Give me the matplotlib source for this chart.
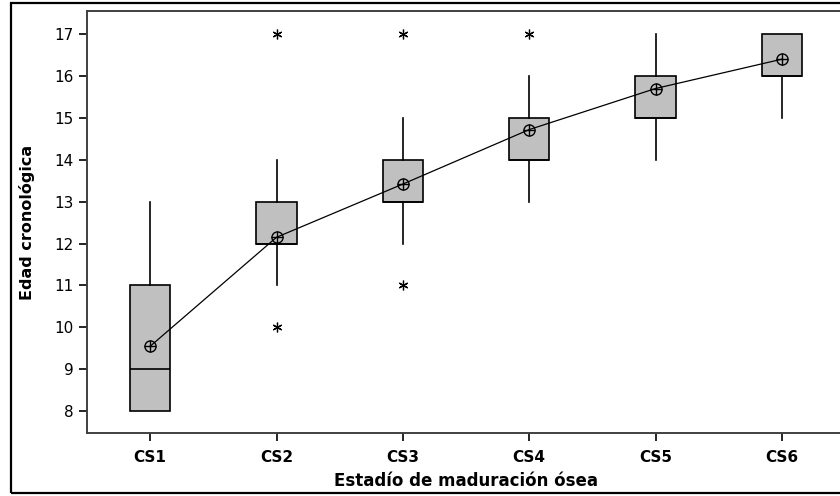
import matplotlib
matplotlib.use("Agg")
import matplotlib.pyplot as plt
from matplotlib.patches import Rectangle

# estadios y resumen de cada caja
stages = ["CS1", "CS2", "CS3", "CS4", "CS5", "CS6"]
q1 = [8, 12, 13, 14, 15, 16]
med = [9, 12, 13, 14, 15, 16]
q3 = [11, 13, 14, 15, 16, 17]
wlo = [8, 11, 12, 13, 14, 15]
whi = [13, 14, 15, 16, 17, 17]
means = [9.55, 12.15, 13.42, 14.72, 15.70, 16.40]
outliers = [[], [10, 17], [11, 17], [17], [], []]

stats = []
for i in range(len(stages)):
    stats.append({"label": stages[i], "q1": q1[i], "med": med[i], "q3": q3[i],
                  "whislo": wlo[i], "whishi": whi[i], "fliers": outliers[i]})

fig = plt.figure(figsize=(8.4, 4.96), dpi=100)
ax = fig.add_axes([87 / 840, 1 - 433 / 496, 758 / 840, 422 / 496])

pos = list(range(1, len(stages) + 1))
ax.bxp(stats, positions=pos, widths=0.32, patch_artist=True, showcaps=False,
       boxprops=dict(facecolor="#c0c0c0", edgecolor="black", linewidth=1.2),
       medianprops=dict(color="black", linewidth=1.2),
       whiskerprops=dict(color="black", linewidth=1.2),
       flierprops=dict(marker=(6, 2, 0), markersize=7, markeredgecolor="black",
                       markeredgewidth=0.9))

# medias conectadas
ax.plot(pos, means, color="black", lw=0.9, zorder=4)
ax.plot(pos, means, "o", ms=8, mfc="none", mec="black", mew=1.0, zorder=5)
ax.plot(pos, means, "+", ms=8, mec="black", mew=1.0, zorder=5)

ax.set_xlim(0.5, 6.5)
ax.set_ylim(7.48, 17.55)
ax.set_yticks(range(8, 18))
ax.set_xticks(pos)
ax.set_xticklabels(stages, fontweight="bold")
ax.tick_params(direction="out", length=6, width=1.2, labelsize=11, colors="black")
ax.tick_params(axis="x", pad=6)
for s in ax.spines.values():
    s.set_linewidth(1.4)
    s.set_color("#404040")

ax.set_xlabel("Estadío de maduración ósea", fontsize=12, fontweight="bold", labelpad=5)
ax.set_ylabel("Edad cronológica", fontsize=11.5, fontweight="bold", labelpad=14)

fig.add_artist(Rectangle((11 / 840, 3 / 496), 0.99, 1 - 6 / 496, transform=fig.transFigure,
                         fill=False, lw=1.6, edgecolor="black", clip_on=False))

fig.savefig("out.png", dpi=100)
